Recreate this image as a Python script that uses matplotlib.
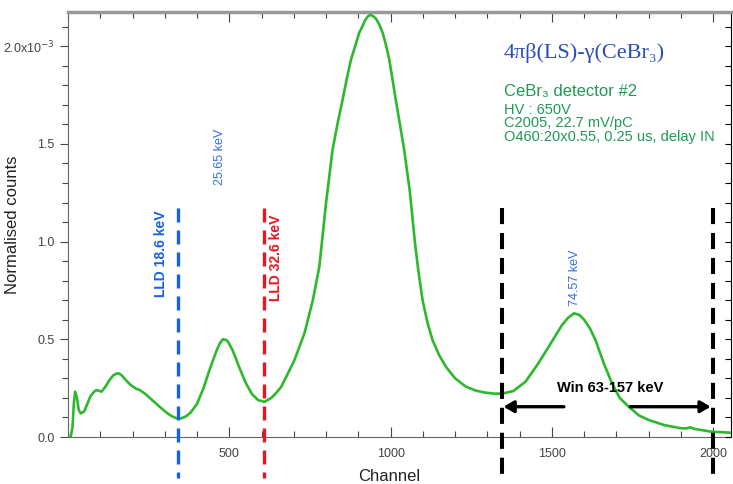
import matplotlib
matplotlib.use("Agg")
import matplotlib.pyplot as plt
from matplotlib.ticker import MultipleLocator, FixedLocator, FuncFormatter

plt.rcParams['font.family'] = ['Liberation Sans', 'DejaVu Sans']

# spectrum (channel, normalised counts in units of 1e-3)
channel = [0, 8, 14, 18, 22, 28, 33, 39, 50, 60, 70, 83, 89, 97, 104, 115, 128,
           140, 150, 156, 165, 180, 195, 210, 223, 240, 260, 284, 305, 320, 336,
           350, 365, 380, 400, 420, 440, 460, 470, 480, 488, 495, 510, 530, 550,
           570, 590, 609, 630, 645, 661, 680, 702, 733, 759, 779, 800, 820, 835,
           851, 865, 877, 890, 903, 912, 920, 928, 936, 945, 955, 965, 975, 985,
           996, 1016, 1042, 1060, 1075, 1086, 1099, 1115, 1130, 1150, 1171, 1200,
           1233, 1265, 1290, 1320, 1346, 1380, 1418, 1455, 1490, 1530, 1550, 1568,
           1585, 1600, 1618, 1635, 1660, 1686, 1710, 1738, 1770, 1800, 1850, 1903,
           1920, 1928, 1940, 1995, 2055]
counts = [0.0, 0.0, 0.05, 0.17, 0.232, 0.20, 0.14, 0.121, 0.13, 0.17, 0.21, 0.235,
          0.24, 0.236, 0.232, 0.255, 0.29, 0.315, 0.324, 0.326, 0.318, 0.29, 0.265,
          0.248, 0.24, 0.22, 0.19, 0.155, 0.125, 0.108, 0.096, 0.095, 0.105, 0.125,
          0.17, 0.25, 0.35, 0.44, 0.478, 0.50, 0.498, 0.49, 0.445, 0.36, 0.28, 0.22,
          0.188, 0.18, 0.2, 0.225, 0.257, 0.32, 0.394, 0.531, 0.701, 0.872, 1.2,
          1.47, 1.6, 1.725, 1.84, 1.93, 2.0, 2.07, 2.10, 2.13, 2.15, 2.16, 2.155,
          2.14, 2.11, 2.07, 2.01, 1.93, 1.725, 1.47, 1.25, 1.0, 0.85, 0.701, 0.58,
          0.496, 0.42, 0.36, 0.3, 0.258, 0.237, 0.228, 0.222, 0.222, 0.235, 0.283,
          0.37, 0.462, 0.57, 0.61, 0.633, 0.625, 0.6, 0.555, 0.496, 0.38, 0.275,
          0.2, 0.155, 0.11, 0.087, 0.06, 0.044, 0.045, 0.05, 0.042, 0.027, 0.022]

lld_blue = 341
lld_red = 609
win_lo, win_hi = 1346, 2000
line_top, line_bot = 1.172, -0.21
arrow_y = 0.155

fig = plt.figure(figsize=(7.33, 4.84), dpi=100)
ax = fig.add_axes([68/733, 47/484, 663/733, 425/484])

ax.plot(channel, counts, color='#2db82d', lw=1.9, zorder=3,
        solid_joinstyle='round')

ax.plot([lld_blue, lld_blue], [line_top, line_bot], color='#1560e8', lw=2.4,
        dashes=(4.2, 2.4), clip_on=False, zorder=4)
ax.plot([lld_red, lld_red], [line_top, line_bot], color='#e8161e', lw=2.4,
        dashes=(4.2, 2.4), clip_on=False, zorder=4)
for xw in (win_lo, win_hi):
    ax.plot([xw, xw], [line_top, line_bot], color='black', lw=2.9,
            dashes=(4.0, 2.2), clip_on=False, zorder=4)

ap = dict(arrowstyle='-|>,head_length=0.6,head_width=0.35', color='black', lw=2.4,
          shrinkA=0, shrinkB=0)
ax.annotate('', xy=(win_lo + 4, arrow_y), xytext=(1537, arrow_y), arrowprops=ap)
ax.annotate('', xy=(win_hi - 8, arrow_y), xytext=(1743, arrow_y), arrowprops=ap)
ax.text(1681, 0.25, 'Win 63-157 keV', fontsize=10.5, fontweight='bold',
        ha='center', va='center')

ax.text(288, 0.94, 'LLD 18.6 keV', rotation=90, color='#1560e8', fontsize=10,
        fontweight='bold', ha='center', va='center')
ax.text(645, 0.916, 'LLD 32.6 keV', rotation=90, color='#e8161e', fontsize=10,
        fontweight='bold', ha='center', va='center')
ax.text(470, 1.433, '25.65 keV', rotation=90, color='#2f6fe0', fontsize=9,
        ha='center', va='center')
ax.text(1573, 0.814, '74.57 keV', rotation=90, color='#2f6fe0', fontsize=9,
        ha='center', va='center')

ax.text(1351, 1.965, '4πβ(LS)-γ(CeBr₃)', color='#2b4fb5', fontsize=16,
        family=['Liberation Serif', 'DejaVu Serif'], va='center')
green = '#1f9a55'
ax.text(1351, 1.766, 'CeBr₃ detector #2', color=green, fontsize=12, va='center')
ax.text(1351, 1.673, 'HV : 650V', color=green, fontsize=10.5, va='center')
ax.text(1351, 1.607, 'C2005, 22.7 mV/pC', color=green, fontsize=10.5, va='center')
ax.text(1351, 1.535, 'O460:20x0.55, 0.25 us, delay IN', color=green,
        fontsize=10.5, va='center')

ax.set_xlim(0, 2055)
ax.set_ylim(0, 2.175)

ax.xaxis.set_major_locator(FixedLocator([500, 1000, 1500, 2000]))
ax.xaxis.set_minor_locator(MultipleLocator(100))
ax.yaxis.set_major_locator(MultipleLocator(0.5))
ax.yaxis.set_minor_locator(MultipleLocator(0.1))

def yfmt(v, pos):
    if abs(v - 2.0) < 1e-6:
        return r'2.0x10$^{-3}$'
    return '%.1f' % v
ax.yaxis.set_major_formatter(FuncFormatter(yfmt))

ax.tick_params(axis='x', which='both', direction='in', top=True, colors='#444444',
               labelsize=9, pad=8)
ax.tick_params(axis='x', which='major', length=7, width=0.8)
ax.tick_params(axis='x', which='minor', length=4, width=0.8)
ax.tick_params(axis='y', which='both', direction='out', colors='#444444',
               labelsize=9)
ax.tick_params(axis='y', which='major', length=6, width=0.8)
ax.tick_params(axis='y', which='minor', length=4, width=0.8)

for s in ('left', 'bottom'):
    ax.spines[s].set_color('#666666')
ax.spines['top'].set_color('#999999')
ax.spines['top'].set_linewidth(2.5)
ax.spines['right'].set_color('black')

# right spine ticks pointing inward
ax2 = ax.twinx()
ax2.set_ylim(ax.get_ylim())
ax2.yaxis.set_major_locator(MultipleLocator(0.1))
ax2.tick_params(axis='y', direction='in', length=4, width=0.8, labelright=False)
for s in ax2.spines.values():
    s.set_visible(False)

ax.set_xlabel('Channel', fontsize=12, color='#222222')
ax.xaxis.set_label_coords(0.485, -0.075)
ax.set_ylabel('Normalised counts', fontsize=12, color='#222222')
ax.yaxis.set_label_coords(-0.072, 0.5)

fig.savefig('out.png', dpi=100)
